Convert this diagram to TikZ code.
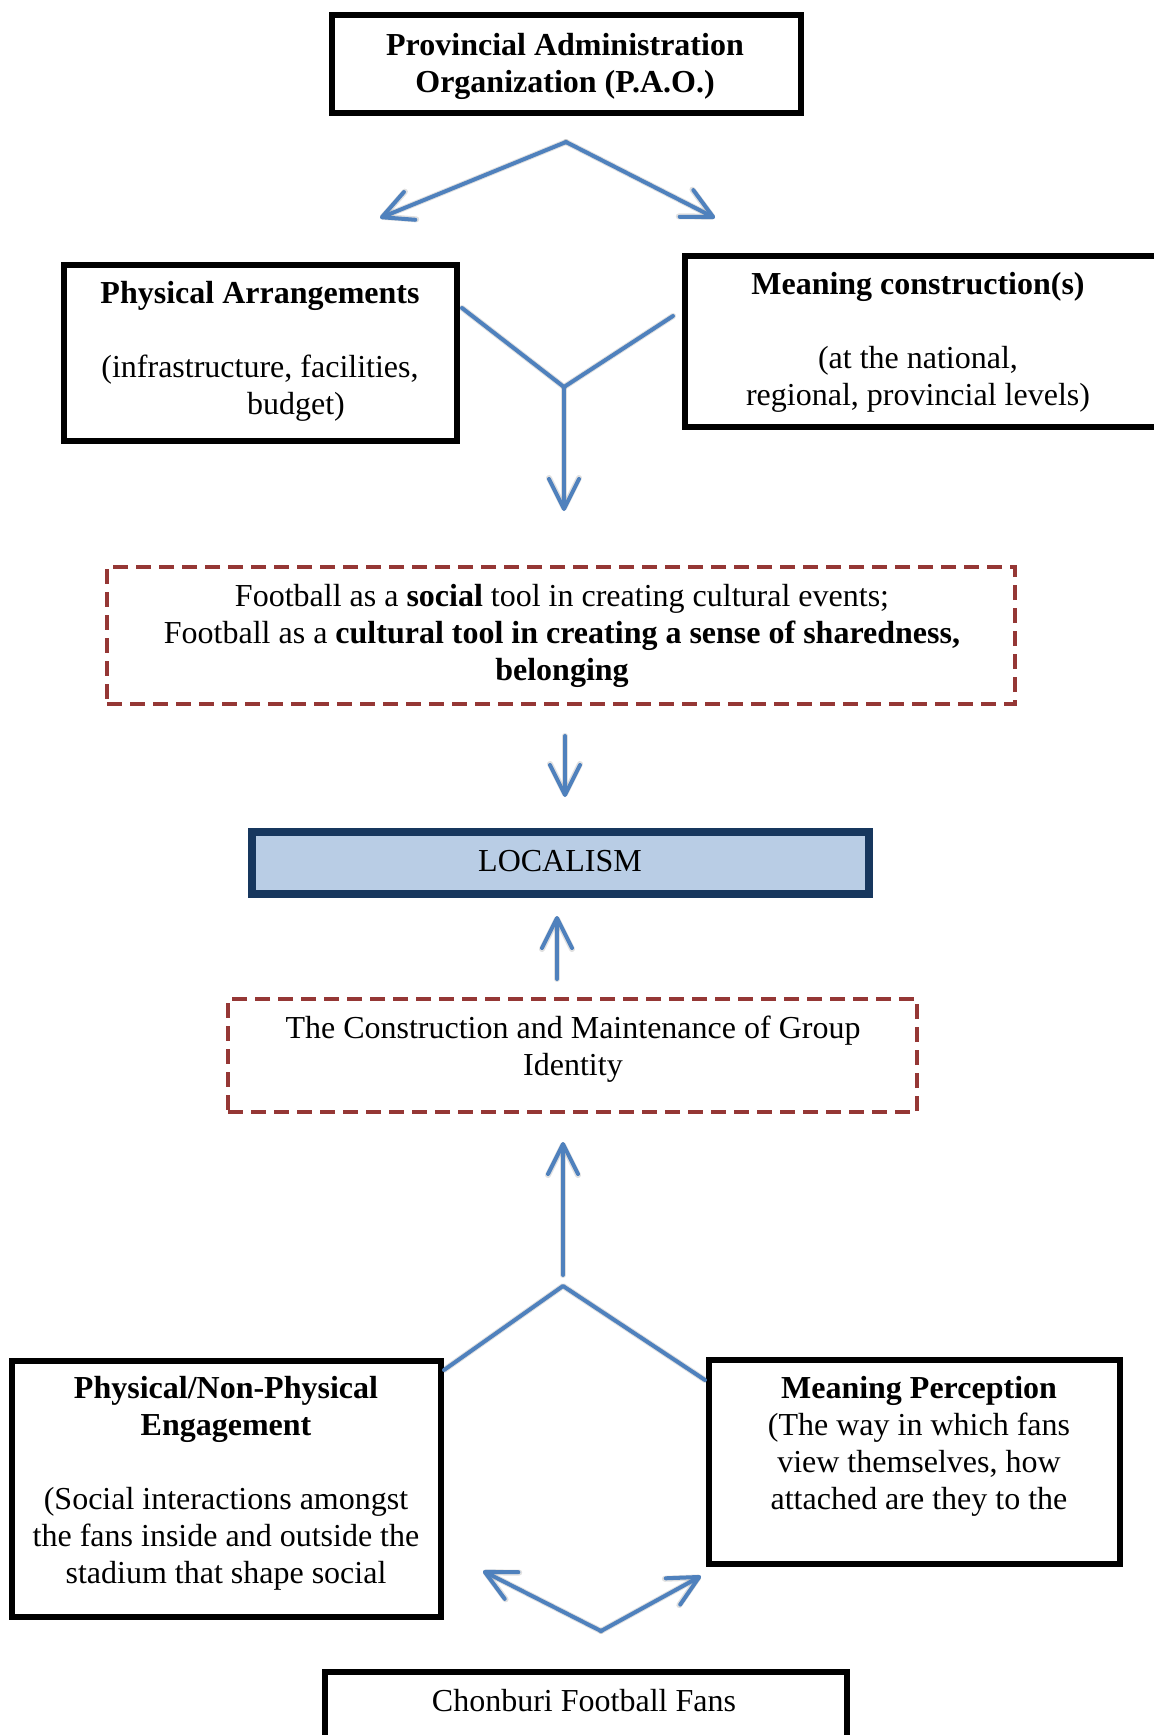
\documentclass[tikz,border=0pt]{standalone}
\usepackage{fontspec}
\setmainfont{Liberation Serif}
\usetikzlibrary{arrows.meta}
\definecolor{arrowblue}{HTML}{4F81BD}
\definecolor{dashred}{HTML}{953735}
\definecolor{locfill}{HTML}{B9CDE5}
\definecolor{locline}{HTML}{17375E}
\begin{document}
\begin{tikzpicture}[x=0.5pt,y=-0.5pt,
  box/.style={draw=black,line width=3pt,rectangle,inner sep=0pt},
  dbox/.style={draw=dashred,line width=2.4pt,dash pattern=on 7.5pt off 4pt,rectangle,inner sep=0pt},
  txt/.style={align=center,font=\fontsize{16}{18.5}\selectfont,inner sep=0pt},
  btxt/.style={txt,font=\fontsize{16}{18.5}\selectfont\bfseries},
  conn/.style={draw=arrowblue,line width=2pt,line cap=round,line join=round},
  barb/.tip={Straight Barb[length=15pt,width=15pt,round]},
  arr/.style={conn,-barb},
  shade/.style={draw=black,opacity=0.12,line width=3pt,line cap=round,line join=round,shift={(3,5)}},
  shadearr/.style={shade,-barb}
]
\useasboundingbox (0,0) rectangle (1154,1735);

% boxes
\node[box,minimum width=234.5pt,minimum height=49pt] (pao) at (566,64) {};
\node[btxt] (paot) at (565,66) {Provincial Administration\\Organization (P.A.O.)};

\node[box,minimum width=196.5pt,minimum height=88pt] (pa) at (260,352.5) {};
\node[txt] (pat) at (260,351) {\textbf{Physical Arrangements}\\[18.5pt](infrastructure, facilities,\\\hspace*{36pt}budget)};

\node[box,minimum width=245.25pt,minimum height=85.5pt] (mc) at (929.75,341) {};
\node[txt] (mct) at (918,342.5) {\textbf{Meaning construction(s)}\\[18.5pt](at the national,\\regional, provincial levels)};

\node[dbox,minimum width=454pt,minimum height=68.5pt] (fb) at (561,635.5) {};
\node[txt] (fbt) at (562,635.5) {Football as a \textbf{social} tool in creating cultural events;\\Football as a \textbf{cultural tool in creating a sense of sharedness,}\\\textbf{belonging}};

\node[draw=locline,fill=locfill,line width=4pt,rectangle,inner sep=0pt,minimum width=308.5pt,minimum height=31pt] (loc) at (560.5,863) {};
\node[txt] (loct) at (560,861) {LOCALISM};

\node[dbox,minimum width=344.5pt,minimum height=56.5pt] (gi) at (572.5,1055.5) {};
\node[txt] (git) at (573,1049) {The Construction and Maintenance of Group\\Identity};

\node[box,minimum width=214.5pt,minimum height=128pt] (pnp) at (226,1488.5) {};
\node[txt] (pnpt) at (226,1483) {\textbf{Physical/Non-Physical}\\\textbf{Engagement}\\[18.5pt](Social interactions amongst\\the fans inside and outside the\\stadium that shape social};

\node[box,minimum width=205.5pt,minimum height=102pt] (mp) at (914,1461.5) {};
\node[txt] (mpt) at (919,1446.5) {\textbf{Meaning Perception}\\(The way in which fans\\view themselves, how\\attached are they to the};

\node[box,minimum width=261pt,minimum height=44.25pt] (cf) at (585.5,1715.75) {};
\node[txt] (cft) at (584,1701) {Chonburi Football Fans};

% connectors
\coordinate (p0) at (566,142);
\coordinate (p1) at (380,218);
\coordinate (p2) at (715,218);
\coordinate (yl) at (462,308);
\coordinate (yr) at (673,316);
\coordinate (yj) at (564,387);
\coordinate (yt) at (564,511);
\coordinate (a3s) at (565,736);
\coordinate (a3e) at (565,797);
\coordinate (a4s) at (557,979);
\coordinate (a4e) at (557,916);
\coordinate (a5s) at (563,1275);
\coordinate (a5e) at (563,1142);
\coordinate (vl) at (444,1370);
\coordinate (vj) at (563,1286);
\coordinate (vr) at (705,1380);
\coordinate (dj) at (601,1631);
\coordinate (dl) at (483,1571);
\coordinate (dr) at (701,1576);

% soft shadows of the connectors
\draw[shadearr] (p0) -- (p1);
\draw[shadearr] (p0) -- (p2);
\draw[shade] (yl) -- (yj) -- (yr);
\draw[shadearr] (yj) -- (yt);
\draw[shadearr] (a3s) -- (a3e);
\draw[shadearr] (a4s) -- (a4e);
\draw[shadearr] (a5s) -- (a5e);
\draw[shade] (vl) -- (vj) -- (vr);
\draw[shadearr] (dj) -- (dl);
\draw[shadearr] (dj) -- (dr);

% connectors
\draw[arr] (p0) -- (p1);
\draw[arr] (p0) -- (p2);
\draw[conn] (yl) -- (yj) -- (yr);
\draw[arr] (yj) -- (yt);
\draw[arr] (a3s) -- (a3e);
\draw[arr] (a4s) -- (a4e);
\draw[arr] (a5s) -- (a5e);
\draw[conn] (vl) -- (vj) -- (vr);
\draw[arr] (dj) -- (dl);
\draw[arr] (dj) -- (dr);
\end{tikzpicture}
\end{document}
